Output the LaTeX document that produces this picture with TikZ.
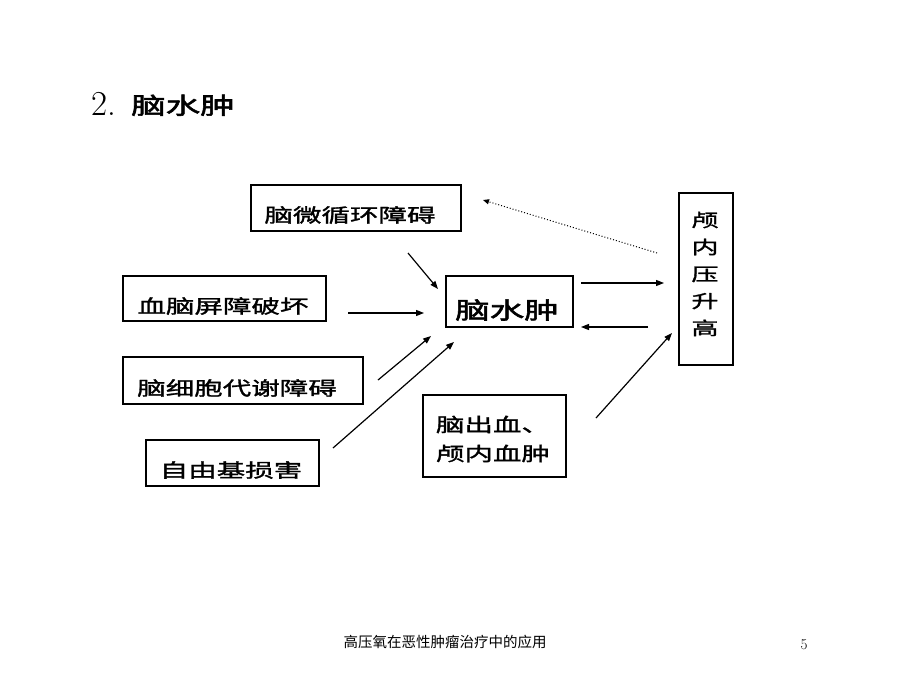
\documentclass[tikz,border=0pt]{standalone}
\usepackage{fontspec}
\usetikzlibrary{arrows.meta}
\newfontfamily\cjk[FakeStretch=1.5,FakeBold=1.5]{Noto Sans CJK SC}
\newfontfamily\cjktitle[FakeStretch=1.5,FakeBold=2.5]{Noto Sans CJK SC}
\newfontfamily\cjkfoot{Noto Sans CJK SC}
\begin{document}
\begin{tikzpicture}[x=1pt,y=-1pt,
  box/.style={draw, line width=1.2pt, inner sep=0pt},
  txt/.style={inner sep=0pt, align=center, font=\cjk\fontsize{19}{29}\selectfont},
  bigtxt/.style={inner sep=0pt, font=\cjktitle\fontsize{23}{29}\selectfont},
  arr/.style={line width=1.2pt, -{Triangle[length=8pt,width=6pt]}},
  dotarr/.style={line width=1pt, dotted, -{Triangle[length=6pt,width=5pt]}}]
\useasboundingbox (0,0) rectangle (900,675);
\fill[white] (0,0) rectangle (900,675);

% title
\node[anchor=base west, inner sep=0pt] (tnum) at (91,115) {\fontsize{35}{35}\selectfont 2.};
\node[anchor=base west, bigtxt] (ttl) at (131,114) {脑水肿};

% boxes
\node[box, minimum width=210, minimum height=46] (wx) at (356,208) {};
\node[txt] (wxt) at (350,215) {脑微循环障碍};

\node[box, minimum width=203, minimum height=45] (bb) at (224.5,298.5) {};
\node[txt] (bbt) at (223,306) {血脑屏障破坏};

\node[box, minimum width=240, minimum height=47] (dx) at (243,380.5) {};
\node[txt] (dxt) at (237,388) {脑细胞代谢障碍};

\node[box, minimum width=173, minimum height=46] (zy) at (232.5,463) {};
\node[txt] (zyt) at (231,470) {自由基损害};

\node[box, minimum width=127, minimum height=51] (sz) at (509.5,301.5) {};
\node[bigtxt] (szt) at (507,310) {脑水肿};

\node[box, minimum width=54, minimum height=172] (ly) at (706,279) {};
\node[txt, font=\cjk\fontsize{18}{27}\selectfont] (lyt) at (705,274) {颅\\内\\压\\升\\高};

\node[box, minimum width=143, minimum height=82] (cx) at (494.5,436) {};
\node[txt, align=left] (cxt) at (493,439) {脑出血、\\颅内血肿};

% arrows
\coordinate (a1s) at (408,253); \coordinate (a1e) at (438,289);
\coordinate (a2s) at (348,313); \coordinate (a2e) at (424,313);
\coordinate (a3s) at (378,380); \coordinate (a3e) at (431,336);
\coordinate (a4s) at (333,448); \coordinate (a4e) at (454,342);
\coordinate (a5s) at (581,283); \coordinate (a5e) at (664,283);
\coordinate (a6s) at (648,327); \coordinate (a6e) at (581,327);
\coordinate (a7s) at (596,418); \coordinate (a7e) at (672,333);
\coordinate (a8s) at (657,253); \coordinate (a8e) at (483,200);
\draw[arr] (a1s) -- (a1e);
\draw[arr] (a2s) -- (a2e);
\draw[arr] (a3s) -- (a3e);
\draw[arr] (a4s) -- (a4e);
\draw[arr] (a5s) -- (a5e);
\draw[arr] (a6s) -- (a6e);
\draw[arr] (a7s) -- (a7e);
\draw[dotarr] (a8s) -- (a8e);

% footer
\node[inner sep=0pt] (foot) at (445,642) {\cjkfoot\fontsize{14.5}{15}\selectfont 高压氧在恶性肿瘤治疗中的应用};
\node[inner sep=0pt] (pg) at (804,645) {\fontsize{15}{15}\selectfont 5};
\end{tikzpicture}
\end{document}
